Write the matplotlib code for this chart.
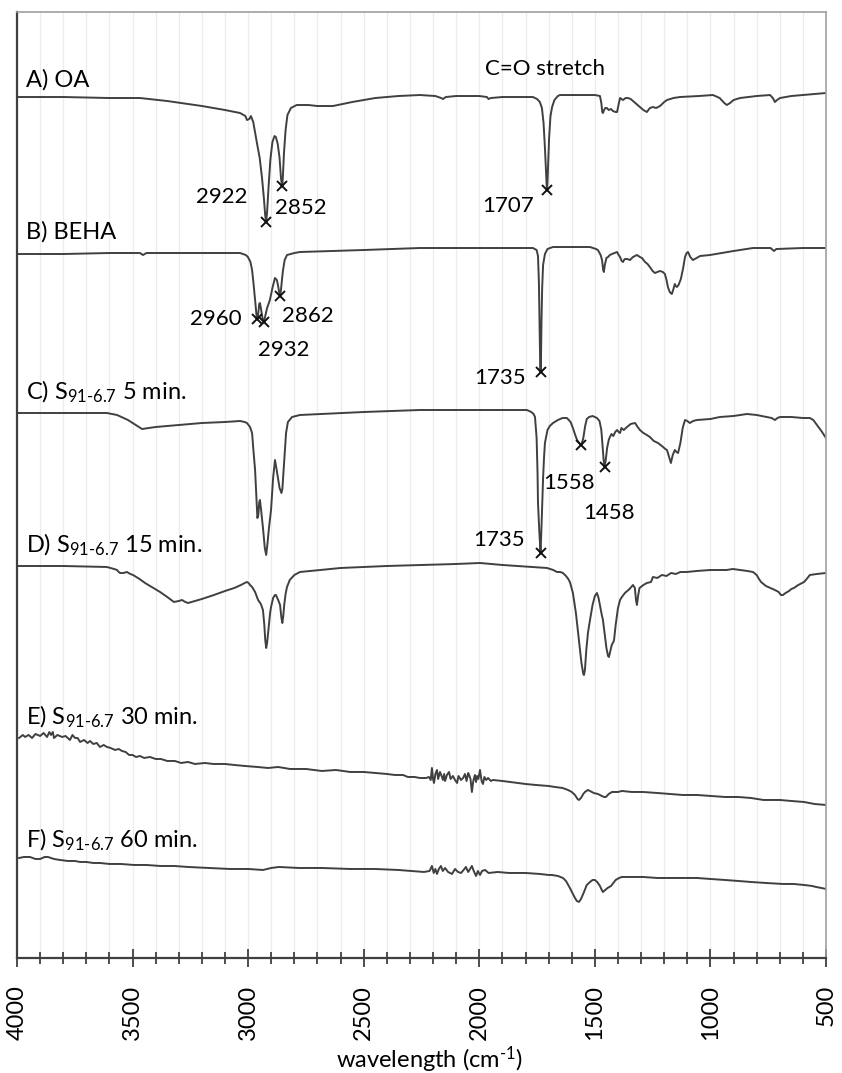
import numpy as np
import matplotlib
matplotlib.use("Agg")
import matplotlib.pyplot as plt
from matplotlib.ticker import MultipleLocator

plt.rcParams["font.family"] = ["Lato", "DejaVu Sans"]
plt.rcParams["mathtext.fontset"] = "custom"
plt.rcParams["mathtext.rm"] = "Lato"
plt.rcParams["mathtext.it"] = "Lato"

# ── Spectra: (wavenumber cm-1, stacked transmittance a.u.) ───────────────────

A_OA = [(4000, 86.1), (3800, 86.1), (3600, 86.0), (3468, 86.0), (3350, 85.7), (3200, 85.2),
        (3100, 84.8), (3035, 84.5), (3012, 84.2), (3005, 83.8), (2995, 83.9), (2988, 84.2),
        (2978, 83.6), (2968, 82.3), (2962, 81.5), (2950, 80.0), (2940, 78.0), (2932, 76.0),
        (2926, 74.2), (2922, 73.6), (2918, 74.6), (2912, 77.0), (2904, 79.8), (2895, 81.6),
        (2886, 82.2), (2880, 82.1), (2872, 81.4), (2864, 80.0), (2858, 78.0), (2854, 77.3),
        (2852, 77.2), (2849, 78.5), (2845, 80.5), (2838, 82.8), (2830, 84.3), (2815, 85.0),
        (2790, 85.3), (2740, 85.3), (2700, 85.2), (2633, 85.2), (2550, 85.6), (2450, 86.0),
        (2350, 86.2), (2257, 86.3), (2190, 86.2), (2165, 86.0), (2157, 85.9), (2145, 86.1),
        (2100, 86.2), (2000, 86.2), (1967, 86.1), (1960, 85.9), (1950, 86.0), (1900, 86.1),
        (1800, 86.1), (1768, 86.1), (1750, 85.9), (1738, 85.6), (1729, 85.0), (1722, 83.5),
        (1716, 81.0), (1712, 79.0), (1709, 77.5), (1707, 76.8), (1705, 77.5), (1702, 79.5),
        (1698, 82.0), (1692, 84.2), (1685, 85.1), (1675, 85.8), (1660, 86.2), (1651, 86.3),
        (1600, 86.3), (1500, 86.3), (1478, 86.2), (1472, 85.5), (1468, 84.6), (1465, 84.5),
        (1460, 84.8), (1455, 85.0), (1448, 85.0), (1440, 84.8), (1430, 84.9), (1422, 84.7),
        (1410, 84.6), (1404, 84.6), (1396, 85.5), (1391, 86.0), (1378, 85.8), (1367, 86.0),
        (1357, 86.0), (1345, 85.9), (1335, 85.7), (1320, 85.4), (1305, 85.1), (1290, 84.8),
        (1275, 84.6), (1262, 85.0), (1249, 85.1), (1235, 85.0), (1218, 85.2), (1200, 85.6),
        (1188, 85.8), (1160, 86.0), (1132, 86.1), (1050, 86.2), (989, 86.3), (960, 86.0),
        (940, 85.5), (929, 85.3), (915, 85.5), (900, 85.8), (872, 86.0), (800, 86.2),
        (742, 86.3), (730, 86.0), (721, 85.6), (712, 85.8), (699, 86.0), (650, 86.2),
        (600, 86.3), (500, 86.5)]

B_BEHA = [(4000, 70.4), (3800, 70.4), (3600, 70.5), (3468, 70.5), (3455, 70.3), (3440, 70.5),
          (3425, 70.5), (3200, 70.5), (3035, 70.5), (3010, 70.3), (3001, 70.1), (2990, 69.6),
          (2983, 68.8), (2977, 67.5), (2970, 65.8), (2964, 64.3), (2960, 63.9), (2956, 64.5),
          (2952, 65.4), (2949, 65.5), (2945, 65.0), (2938, 64.0), (2932, 63.6), (2926, 64.2),
          (2918, 65.0), (2906, 65.8), (2895, 67.0), (2884, 68.0), (2876, 67.8), (2871, 67.3),
          (2866, 66.6), (2862, 66.2), (2858, 66.8), (2853, 68.0), (2849, 68.8), (2842, 69.8),
          (2832, 70.3), (2800, 70.5), (2776, 70.6), (2500, 70.8), (2257, 71.0), (2000, 71.0),
          (1768, 71.0), (1752, 70.8), (1746, 70.2), (1742, 67.5), (1739, 63.0), (1737, 60.0),
          (1735, 58.6), (1733, 60.0), (1731, 63.5), (1728, 67.0), (1724, 69.3), (1716, 70.4),
          (1705, 70.9), (1694, 71.0), (1681, 71.1), (1600, 71.1), (1521, 71.1), (1495, 70.9),
          (1487, 70.8), (1475, 70.3), (1469, 69.8), (1464, 68.8), (1461, 68.6), (1457, 69.3),
          (1450, 70.0), (1443, 70.1), (1435, 70.3), (1426, 70.4), (1415, 70.5), (1404, 70.6),
          (1397, 70.3), (1391, 70.1), (1384, 69.7), (1378, 69.6), (1374, 69.8), (1370, 69.9),
          (1360, 69.9), (1348, 69.8), (1335, 70.1), (1318, 70.3), (1305, 70.1), (1296, 70.0),
          (1283, 69.6), (1272, 69.4), (1262, 69.1), (1250, 68.7), (1240, 68.5), (1230, 68.6),
          (1218, 68.7), (1206, 68.6), (1197, 68.4), (1190, 67.8), (1184, 67.1), (1176, 66.6),
          (1167, 66.4), (1160, 66.9), (1154, 67.4), (1150, 67.2), (1145, 67.1), (1138, 67.3),
          (1128, 67.9), (1118, 69.0), (1110, 70.1), (1103, 70.5), (1097, 70.6), (1087, 70.1),
          (1076, 69.8), (1060, 70.0), (1045, 70.2), (1002, 70.3), (900, 70.7), (816, 71.0),
          (740, 71.0), (725, 70.7), (715, 70.9), (600, 71.0), (500, 71.0)]

C_5MIN = [(4000, 54.5), (3800, 54.5), (3611, 54.5), (3567, 54.3), (3520, 53.8), (3459, 52.9),
          (3400, 53.1), (3300, 53.3), (3200, 53.5), (3100, 53.6), (3035, 53.7), (3015, 53.6),
          (3005, 53.5), (2992, 53.1), (2983, 52.5), (2978, 51.0), (2970, 48.8), (2964, 46.0),
          (2960, 44.0), (2956, 44.3), (2952, 45.6), (2949, 45.8), (2944, 44.8), (2935, 42.8),
          (2928, 41.0), (2922, 40.3), (2917, 41.3), (2910, 43.0), (2901, 44.8), (2892, 48.0),
          (2884, 49.8), (2878, 49.0), (2871, 48.0), (2864, 47.0), (2856, 46.5), (2852, 46.9),
          (2846, 49.0), (2841, 50.8), (2836, 52.5), (2828, 53.6), (2810, 54.1), (2776, 54.3),
          (2500, 54.6), (2257, 54.8), (2000, 54.8), (1794, 54.8), (1775, 54.6), (1765, 54.4),
          (1759, 54.1), (1752, 52.0), (1748, 48.5), (1746, 45.5), (1740, 42.5), (1735, 40.5),
          (1731, 43.0), (1727, 46.0), (1724, 48.0), (1720, 50.0), (1716, 51.5), (1705, 52.8),
          (1695, 53.2), (1681, 53.5), (1660, 53.8), (1640, 54.0), (1621, 54.0), (1605, 53.6),
          (1595, 53.0), (1585, 52.3), (1577, 51.8), (1568, 51.5), (1558, 51.3), (1550, 52.0),
          (1542, 53.2), (1535, 53.9), (1525, 54.1), (1510, 54.2), (1500, 54.1), (1491, 54.0),
          (1480, 53.7), (1472, 52.8), (1466, 51.0), (1462, 49.8), (1458, 49.1), (1453, 49.8),
          (1447, 51.0), (1440, 51.8), (1435, 52.1), (1428, 52.4), (1420, 52.2), (1412, 52.6),
          (1404, 52.8), (1397, 52.6), (1391, 52.5), (1385, 53.0), (1375, 52.8), (1361, 53.1),
          (1345, 53.4), (1326, 53.5), (1315, 53.1), (1305, 52.8), (1290, 52.5), (1275, 52.3),
          (1262, 52.1), (1245, 51.7), (1227, 51.5), (1210, 51.2), (1195, 50.9), (1188, 50.8),
          (1180, 50.2), (1171, 49.5), (1163, 50.3), (1154, 50.8), (1147, 50.6), (1140, 50.5),
          (1130, 51.5), (1120, 53.0), (1110, 53.8), (1100, 53.7), (1089, 53.5), (1075, 53.7),
          (1058, 53.8), (1000, 53.9), (959, 54.1), (900, 54.2), (842, 54.4), (800, 54.3),
          (756, 54.1), (735, 54.0), (721, 53.8), (710, 54.0), (699, 54.1), (650, 54.1),
          (600, 54.0), (570, 54.0), (555, 53.8), (539, 53.3), (520, 52.7), (500, 52.0)]

D_15MIN = [(4000, 39.2), (3800, 39.2), (3611, 39.1), (3580, 38.9), (3567, 38.8), (3560, 38.6),
           (3554, 38.5), (3540, 38.5), (3524, 38.6), (3510, 38.4), (3498, 38.3), (3470, 37.9),
           (3446, 37.5), (3410, 37.0), (3381, 36.6), (3350, 36.1), (3321, 35.6), (3300, 35.7),
           (3286, 35.8), (3272, 35.6), (3260, 35.5), (3230, 35.7), (3200, 35.9), (3148, 36.3),
           (3100, 36.7), (3060, 37.0), (3031, 37.3), (3015, 37.5), (3005, 37.6), (2998, 37.5),
           (2992, 37.3), (2983, 37.1), (2970, 36.6), (2957, 35.8), (2945, 35.4), (2936, 34.8),
           (2930, 33.3), (2926, 31.8), (2922, 31.0), (2918, 31.5), (2914, 32.4), (2910, 33.3),
           (2905, 34.5), (2901, 35.1), (2892, 36.0), (2884, 36.3), (2880, 36.3), (2870, 35.8),
           (2862, 35.3), (2856, 34.0), (2852, 33.5), (2848, 34.2), (2844, 35.3), (2838, 36.4),
           (2832, 37.1), (2820, 37.8), (2800, 38.3), (2776, 38.6), (2600, 39.0), (2400, 39.2),
           (2257, 39.3), (2100, 39.4), (1997, 39.5), (1900, 39.3), (1768, 39.1), (1707, 39.0),
           (1680, 38.8), (1664, 38.6), (1650, 38.6), (1638, 38.5), (1625, 38.2), (1615, 37.9),
           (1608, 37.6), (1595, 36.5), (1582, 34.5), (1570, 32.0), (1558, 29.5), (1550, 28.4),
           (1547, 28.3), (1543, 28.8), (1537, 30.8), (1530, 32.5), (1521, 33.8), (1510, 35.3),
           (1500, 36.2), (1491, 36.5), (1484, 36.0), (1476, 35.0), (1470, 34.3), (1465, 33.8),
           (1458, 32.5), (1450, 31.0), (1443, 30.2), (1439, 30.1), (1433, 30.7), (1427, 31.3),
           (1420, 31.6), (1417, 31.8), (1410, 33.3), (1400, 35.0), (1391, 35.8), (1383, 36.1),
           (1370, 36.5), (1350, 36.9), (1335, 37.3), (1327, 37.0), (1322, 35.8), (1318, 35.3),
           (1313, 36.2), (1307, 37.0), (1301, 37.1), (1290, 37.3), (1275, 37.5), (1257, 37.6),
           (1249, 38.1), (1230, 38.0), (1210, 38.3), (1190, 38.2), (1170, 38.5), (1150, 38.4),
           (1130, 38.6), (1102, 38.6), (1060, 38.7), (1000, 38.8), (959, 38.8), (930, 38.8),
           (903, 38.9), (870, 38.8), (840, 38.7), (816, 38.6), (800, 38.3), (790, 37.9),
           (781, 37.6), (760, 37.2), (740, 37.0), (721, 36.8), (705, 36.6), (695, 36.3),
           (686, 36.3), (675, 36.5), (660, 36.7), (650, 36.9), (639, 37.0), (620, 37.3),
           (595, 37.6), (580, 38.0), (570, 38.3), (540, 38.4), (500, 38.5)]

E_30MIN = [(3991, 22.0), (3975, 22.3), (3965, 22.1), (3950, 22.3), (3935, 22.0), (3920, 22.4),
           (3900, 22.2), (3885, 22.5), (3870, 22.1), (3860, 22.6), (3853, 22.3), (3845, 22.6),
           (3840, 22.0), (3825, 22.3), (3805, 22.1), (3790, 22.2), (3771, 21.8), (3760, 22.3),
           (3749, 22.0), (3738, 22.0), (3727, 21.6), (3710, 21.8), (3695, 21.5), (3684, 21.7),
           (3670, 21.4), (3655, 21.5), (3641, 21.1), (3625, 21.3), (3611, 21.1), (3595, 21.0),
           (3576, 20.8), (3560, 20.9), (3546, 20.7), (3530, 20.6), (3515, 20.3), (3500, 20.3),
           (3485, 20.1), (3468, 20.2), (3450, 20.0), (3425, 20.1), (3400, 19.9), (3377, 19.9),
           (3350, 19.7), (3317, 19.7), (3290, 19.5), (3260, 19.6), (3230, 19.4), (3187, 19.5),
           (3150, 19.4), (3100, 19.4), (3060, 19.3), (3014, 19.2), (2960, 19.1), (2914, 19.0),
           (2870, 19.1), (2819, 18.9), (2750, 18.9), (2681, 18.7), (2620, 18.8), (2559, 18.6),
           (2500, 18.6), (2451, 18.5), (2400, 18.4), (2365, 18.3), (2330, 18.3), (2309, 18.1),
           (2280, 18.1), (2257, 18.0), (2230, 18.0), (2218, 18.1), (2210, 17.8), (2205, 19.0),
           (2200, 17.9), (2196, 17.5), (2190, 18.4), (2183, 18.8), (2178, 17.9), (2170, 18.6),
           (2163, 18.2), (2157, 17.8), (2152, 18.4), (2148, 17.7), (2140, 18.3), (2131, 18.6),
           (2124, 17.9), (2114, 18.2), (2105, 17.8), (2096, 17.5), (2090, 18.2), (2079, 17.8),
           (2070, 18.0), (2062, 18.4), (2055, 17.7), (2048, 18.5), (2044, 18.3), (2038, 17.9),
           (2032, 16.6), (2026, 17.7), (2019, 18.3), (2014, 17.6), (2010, 18.2), (2004, 17.9),
           (1997, 18.8), (1990, 17.7), (1984, 17.4), (1978, 18.1), (1970, 17.8), (1962, 18.0),
           (1950, 17.7), (1941, 17.8), (1900, 17.7), (1867, 17.6), (1800, 17.4), (1755, 17.3),
           (1700, 17.2), (1673, 17.1), (1640, 17.0), (1616, 16.8), (1600, 16.6), (1586, 16.3),
           (1575, 15.9), (1569, 15.8), (1560, 16.0), (1550, 16.4), (1543, 16.6), (1530, 16.8),
           (1521, 16.7), (1505, 16.5), (1487, 16.4), (1470, 16.2), (1460, 16.1), (1452, 16.1),
           (1440, 16.4), (1426, 16.6), (1400, 16.6), (1383, 16.7), (1340, 16.6), (1292, 16.6),
           (1230, 16.5), (1175, 16.4), (1120, 16.3), (1058, 16.3), (1000, 16.2), (937, 16.1),
           (880, 16.1), (825, 16.0), (770, 15.8), (699, 15.8), (650, 15.7), (595, 15.6),
           (550, 15.4), (500, 15.3)]

F_60MIN = [(3991, 10.0), (3970, 10.1), (3944, 10.1), (3920, 9.9), (3900, 9.9), (3880, 10.1),
           (3866, 10.1), (3840, 9.9), (3814, 9.8), (3780, 9.7), (3750, 9.7), (3727, 9.6),
           (3700, 9.6), (3670, 9.5), (3641, 9.5), (3600, 9.4), (3550, 9.4), (3494, 9.3),
           (3440, 9.3), (3381, 9.2), (3320, 9.2), (3260, 9.1), (3170, 9.0), (3079, 8.9),
           (3000, 8.9), (2936, 8.8), (2900, 9.0), (2867, 9.1), (2780, 9.0), (2681, 9.0),
           (2560, 8.9), (2451, 8.9), (2350, 8.8), (2239, 8.6), (2215, 8.7), (2205, 9.2),
           (2197, 8.5), (2190, 8.9), (2183, 8.4), (2175, 8.9), (2166, 9.2), (2158, 8.7),
           (2148, 9.0), (2135, 8.6), (2118, 8.4), (2105, 8.9), (2092, 8.6), (2079, 8.5),
           (2068, 8.8), (2058, 9.1), (2048, 8.6), (2040, 8.9), (2032, 9.2), (2024, 8.7),
           (2014, 8.2), (2006, 8.7), (1997, 8.3), (1988, 8.7), (1975, 8.8), (1960, 8.5),
           (1920, 8.6), (1872, 8.5), (1800, 8.5), (1737, 8.4), (1700, 8.3), (1686, 8.3),
           (1660, 8.2), (1638, 8.0), (1625, 7.7), (1608, 7.0), (1595, 6.4), (1586, 6.0),
           (1578, 5.7), (1569, 5.6), (1560, 5.9), (1547, 6.6), (1535, 7.3), (1521, 7.6),
           (1510, 7.8), (1500, 7.8), (1490, 7.6), (1478, 7.2), (1470, 6.8), (1465, 6.6),
           (1455, 6.8), (1445, 7.0), (1430, 7.2), (1410, 7.8), (1395, 8.0), (1383, 8.1),
           (1340, 8.1), (1292, 8.1), (1230, 8.0), (1175, 8.0), (1120, 8.0), (1058, 8.0),
           (1000, 7.9), (937, 7.8), (880, 7.7), (825, 7.6), (760, 7.5), (686, 7.4),
           (640, 7.4), (595, 7.3), (560, 7.2), (543, 7.1), (520, 7.0), (500, 6.9)]

SPECTRA = [A_OA, B_BEHA, C_5MIN, D_15MIN, E_30MIN, F_60MIN]

SAMPLE_LABELS = ["A) OA", "B) BEHA",
                 r"C) S$_{\text{91-6.7}}$ 5 min.", r"D) S$_{\text{91-6.7}}$ 15 min.",
                 r"E) S$_{\text{91-6.7}}$ 30 min.", r"F) S$_{\text{91-6.7}}$ 60 min."]
LABEL_Y = [87.8, 72.6, 56.6, 41.3, 24.1, 11.8]

# marked peaks: (spectrum index, wavenumber, label x, label y)
PEAKS = [(0, 2922, 3113, 76.1), (0, 2852, 2771, 75.0), (0, 1707, 1876, 75.2),
         (1, 2960, 3139, 63.9), (1, 2932, 2845, 60.8), (1, 2862, 2741, 64.2),
         (1, 1735, 1910, 58.0),
         (2, 1558, 1612, 47.5), (2, 1458, 1439, 44.5), (2, 1735, 1915, 41.8)]

# ── Plot ──────────────────────────────────────────────────────────────────────

LINE = "#404040"
fig = plt.figure(figsize=(8.42, 10.73), dpi=100)
ax = fig.add_axes([0.0202, 0.1072, 0.9608, 0.8816])

for spec in SPECTRA:
    wn, t = np.array(spec).T
    ax.plot(wn, t, color=LINE, lw=1.4, solid_joinstyle="round")

for idx, wn, lx, ly in PEAKS:
    wns, ts = np.array(SPECTRA[idx]).T
    y = np.interp(wn, wns[::-1], ts[::-1])
    ax.plot(wn, y, marker="x", ms=7, mew=1.4, color="#111111", ls="none", zorder=5)
    ax.text(lx, ly, str(wn), fontsize=16, ha="center", va="center", color="black")

ax.text(1716, 88.9, "C=O stretch", fontsize=16, ha="center", va="center")

for lab, y in zip(SAMPLE_LABELS, LABEL_Y):
    ax.text(3961, y, lab, fontsize=17, ha="left", va="center")

ax.set_xlim(4000, 500)
ax.set_ylim(0, 94.6)
ax.xaxis.set_major_locator(MultipleLocator(500))
ax.xaxis.set_minor_locator(MultipleLocator(100))
ax.set_yticks([])
ax.grid(axis="x", which="both", color="#ececec", lw=0.9)
ax.set_axisbelow(True)
ax.tick_params(axis="x", which="major", direction="inout", length=13, width=1.3,
               color=LINE, labelsize=17, labelrotation=90, pad=13)
ax.tick_params(axis="x", which="minor", direction="inout", length=9, width=1.3,
               color=LINE)
for side in ["bottom", "left"]:
    ax.spines[side].set_color(LINE)
    ax.spines[side].set_linewidth(1.6)
for side in ["top", "right"]:
    ax.spines[side].set_color("#a0a0a0")
    ax.spines[side].set_linewidth(1.2)

fig.text(0.51, 0.0125, r"wavelength (cm$^{\text{-1}}$)", fontsize=17,
         ha="center", va="center")

fig.savefig("out.png", dpi=100)
